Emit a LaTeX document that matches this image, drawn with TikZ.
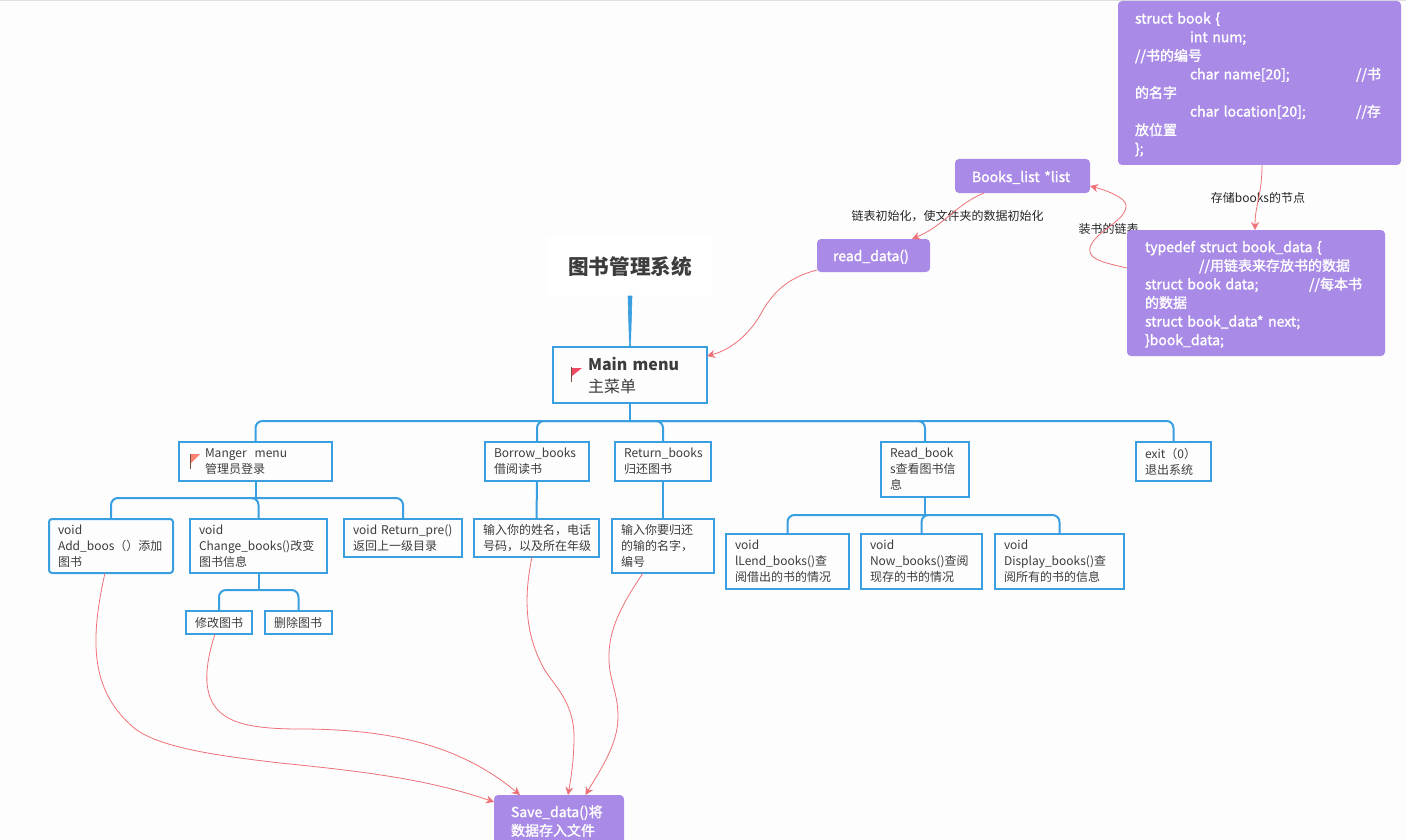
\documentclass[tikz,border=0pt]{standalone}
\usepackage{fontspec}
\setmainfont{Noto Sans CJK SC}
\newfontfamily\pfont[FakeBold=1.6]{Noto Sans CJK SC}
\usetikzlibrary{arrows.meta}
\definecolor{bgc}{HTML}{FDFDFD}
\definecolor{treeblue}{HTML}{3A9FE0}
\definecolor{linkred}{HTML}{EE7178}
\definecolor{purp}{HTML}{A98AE6}
\definecolor{ink}{HTML}{3C3C3C}
\definecolor{flagone}{HTML}{EE4A63}
\definecolor{flagtwo}{HTML}{FA8072}
\definecolor{pole}{HTML}{7A4A3A}
\tikzset{
  box/.code n args={5}{%
    \pgfmathsetmacro\bw{#3-#1}\pgfmathsetmacro\bh{#4-#2}%
    \pgfmathsetmacro\tw{#3-#1-2*#5}\pgfmathsetmacro\cx{(#1+#3)/2}\pgfmathsetmacro\cy{(#2+#4)/2}%
    \tikzset{minimum width=\bw pt,minimum height=\bh pt,text width=\tw pt,inner xsep=#5 pt,at={(\cx,\cy)}}},
  base/.style={inner ysep=0pt,outer sep=0pt,align=left,anchor=center},
  tbox/.style={base,draw=treeblue,line width=2pt,fill=bgc,text=ink,font=\fontsize{12}{16}\selectfont},
  rbox/.style={tbox,rounded corners=3pt},
  pbox/.style={base,fill=purp,rounded corners=4pt,text=white,font=\fontsize{14}{18.6}\selectfont\pfont,execute at begin node={\rule{0pt}{14pt}}},
  tree/.style={draw=treeblue,line width=2pt,rounded corners=7pt},
  stub/.style={draw=treeblue,line width=2pt},
  link/.style={draw=linkred,line width=0.8pt,-{Stealth[length=8pt,width=8pt]}},
  lab/.style={inner sep=0pt,text=black!85,font=\fontsize{12}{14}\selectfont},
}
\begin{document}
\begin{tikzpicture}[x=1pt,y=-1pt]
\useasboundingbox (0,0) rectangle (1406,840);
\clip (0,0) rectangle (1406,840);
\fill[bgc] (0,0) rectangle (1406,840);
\fill[black!12] (0,0) rectangle (1406,1);
% title and main menu
\node[base,fill=white,text=ink,box={547}{237}{713}{296}{5},align=center,font=\fontsize{20.6}{24}\selectfont\bfseries] (title) {图书管理系统};
\node[tbox,box={553}{347}{707}{403}{35},font=\fontsize{16}{22}\selectfont] (main) {{\bfseries Main~menu}\\主菜单};
\draw[treeblue,fill=treeblue,line width=0.6pt] ([xshift=-2]title.south) -- ([xshift=2]title.south) -- ([xshift=.5]main.north) -- ([xshift=-.5]main.north) -- cycle;
% first level
\node[tbox,box={179}{442}{332}{481}{26}] (manger) {Manger\ \ menu\\管理员登录};
\node[tbox,box={485}{442}{589}{481}{9}] (borrow) {Borrow\_books\\借阅读书};
\node[tbox,box={615}{442}{711}{481}{9}] (ret) {Return\_books\\归还图书};
\node[tbox,box={881}{442}{969}{497}{9}] (read) {Read\_book\\s查看图书信\\息};
\node[tbox,box={1136}{442}{1211}{481}{9}] (exitn) {exit（0）\\退出系统};
% second level
\node[rbox,box={49}{519}{173}{573}{9}] (add) {void\\Add\_boos（）添加\\图书};
\node[tbox,box={190}{519}{327}{573}{9}] (change) {void\\Change\_books()改变\\图书信息};
\node[tbox,box={344}{519}{462}{557}{9}] (repre) {void Return\_pre()\\返回上一级目录};
\node[tbox,box={186}{611}{252}{634}{9}] (modify) {修改图书};
\node[tbox,box={265}{611}{332}{634}{9}] (delete) {删除图书};
\node[tbox,box={474}{519}{599}{557}{9}] (inone) {输入你的姓名，电话\\号码，以及所在年级};
\node[tbox,box={612}{519}{714}{573}{9}] (intwo) {输入你要归还\\的输的名字，\\编号};
\node[tbox,box={726}{534}{849}{589}{9}] (lend) {void\\lLend\_books()查\\阅借出的书的情况};
\node[tbox,box={861}{534}{982}{589}{9}] (now) {void\\Now\_books()查阅\\现存的书的情况};
\node[tbox,box={995}{534}{1124}{589}{9}] (disp) {void\\Display\_books()查\\阅所有的书的信息};
% tree connectors
\draw[stub] (main.south) -- ++(0,18);
\draw[tree] (main.south) ++(0,18) -| (manger.north);
\draw[tree] (main.south) ++(0,18) -| (borrow.north);
\draw[tree] (main.south) ++(0,18) -| (ret.north);
\draw[tree] (main.south) ++(0,18) -| (read.north);
\draw[tree] (main.south) ++(0,18) -| (exitn.north);
\draw[stub] (manger.south) -- ++(0,17);
\draw[tree] (manger.south) ++(0,17) -| (add.north);
\draw[tree] (manger.south) ++(0,17) -| (change.north);
\draw[tree] (manger.south) ++(0,17) -| (repre.north);
\draw[stub] (change.south) -- ++(0,17);
\draw[tree] (change.south) ++(0,17) -| (modify.north);
\draw[tree] (change.south) ++(0,17) -| (delete.north);
\draw[stub] (read.south) -- ++(0,18);
\draw[tree] (read.south) ++(0,18) -| (lend.north);
\draw[tree] (read.south) ++(0,18) -| (now.north);
\draw[tree] (read.south) ++(0,18) -| (disp.north);
\draw[stub] (borrow.south) -- (inone.north);
\draw[stub] (ret.south) -- (intwo.north);
% flags
\draw[pole,line width=0.8pt] (571.5,367) -- (571.5,382);
\fill[flagone] (572,368) -- (582,368) -- (572,376) -- cycle;
\draw[pole,line width=0.8pt] (190.5,454) -- (190.5,469);
\fill[flagtwo] (191,454) -- (200,454) -- (191,463) -- cycle;
% labels (the purple boxes lie over them)
\node[lab,anchor=center] (lbinit) at (947.5,216) {链表初始化，使文件夹的数据初始化};
\node[lab,anchor=center] (lbstore) at (1258,198) {存储books的节点};
\node[lab,anchor=center] (lbchain) at (1108.5,228.5) {装书的链表};
% purple boxes
\node[pbox,box={1118}{1}{1401}{165}{17}] (sbook) {struct book \{\\\hspace*{55pt}int num;\\//书的编号\\\hspace*{55pt}\makebox[166pt][l]{char name[20];}//书\\的名字\\\hspace*{55pt}\makebox[166pt][l]{char location[20];}//存\\放位置\\\};};
\node[pbox,box={955}{159}{1090}{193}{17},execute at begin node={}] (blist) {Books\_list~*list};
\node[pbox,box={817}{239}{930}{272}{16}] (rdata) {read\_data()};
\node[pbox,box={1127}{230}{1385}{356}{18}] (tdef) {typedef struct book\_data \{\\\hspace*{54pt}//用链表来存放书的数据\\\makebox[164pt][l]{struct book data;}//每本书\\的数据\\struct book\_data* next;\\\}book\_data;};
\node[pbox,box={494}{795}{624}{845}{17}] (save) {Save\_data()将\\数据存入文件};
% link curves
\draw[link] ([xshift=2.5]sbook.south) .. controls +(0,30) and (1255,205) .. ([xshift=-1]tdef.north);
\draw[link] ([xshift=-38.5]blist.south) .. controls (955,205) and (945,225) .. ([xshift=38.5]rdata.north);
\draw[link] ([yshift=25]tdef.west) .. controls (1100,262) and (1085,258) .. (1091,245) .. controls (1098,230) and (1127,220) .. (1126,205) .. controls (1125,197) and (1105,190) .. ([yshift=-10]blist.east);
\draw[link] ([yshift=-14.5]rdata.west) .. controls (790,277) and (775,290) .. (763,310) .. controls (750,335) and (730,350) .. ([yshift=19]main.east);
\draw[link] ([xshift=-6]add.south) .. controls (90,640) and (90,690) .. (133,727) .. controls (158,749) and (230,757) .. (280,763) .. controls (370,772) and (430,780) .. ([yshift=-7]save.north west);
\draw[link] ([xshift=-4]modify.south) .. controls (205,665) and (200,700) .. (225,716) .. controls (240,726) and (265,729) .. (300,729) .. controls (390,729) and (460,745) .. ([xshift=26]save.north west);
\draw[link] ([xshift=-4.5]inone.south) .. controls (523,600) and (526,635) .. (543,667) .. controls (552,684) and (574,700) .. (574,737) .. controls (574,760) and (571,778) .. ([xshift=74]save.north west);
\draw[link] ([xshift=-20]intwo.south) .. controls (625,600) and (610,625) .. (609,653) .. controls (608,680) and (618,690) .. (618,717) .. controls (618,745) and (600,770) .. ([xshift=91.5]save.north west);
\end{tikzpicture}
\end{document}
